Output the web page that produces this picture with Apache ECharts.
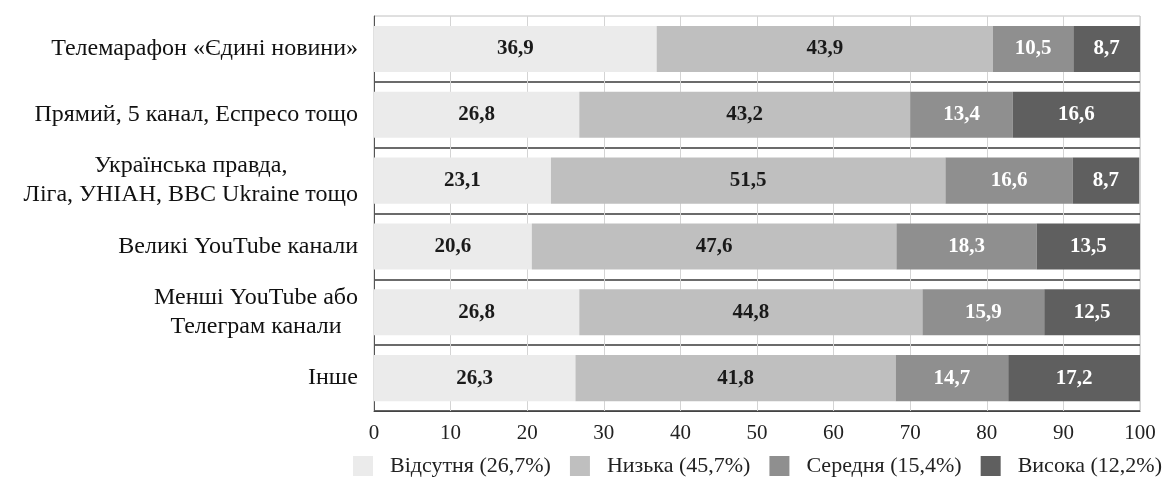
<!DOCTYPE html>
<html><head><meta charset="utf-8">
<script src="https://cdn.jsdelivr.net/npm/echarts@6/dist/echarts.min.js"></script>
<style>html,body{margin:0;padding:0;background:#fff}#c{width:1165px;height:491px}</style>
</head><body><div id="c"></div>
<script>
const categories = [
  'Телемарафон «Єдині новини»',
  'Прямий, 5 канал, Еспресо тощо',
  'Українська правда,\nЛіга, УНІАН, BBC Ukraine тощо',
  'Великі YouTube канали',
  'Менші YouTube або\nТелеграм канали',
  'Інше'
];
const seriesNames = ['Відсутня (26,7%)', 'Низька (45,7%)', 'Середня (15,4%)', 'Висока (12,2%)'];
const absent = [36.9, 26.8, 23.1, 20.6, 26.8, 26.3];
const low = [43.9, 43.2, 51.5, 47.6, 44.8, 41.8];
const medium = [10.5, 13.4, 16.6, 18.3, 15.9, 14.7];
const high = [8.7, 16.6, 8.7, 13.5, 12.5, 17.2];
const xTicks = [0, 10, 20, 30, 40, 50, 60, 70, 80, 90, 100];

const colors = ['#ebebeb', '#bfbfbf', '#8f8f8f', '#5f5f5f'];
const labelColors = ['#1a1a1a', '#1a1a1a', '#ffffff', '#ffffff'];
const font = '"Liberation Serif", "Times New Roman", serif';
const dataSets = [absent, low, medium, high];

const chart = echarts.init(document.getElementById('c'));
chart.setOption({
  animation: false,
  color: colors,
  grid: { left: 374, right: 25, top: 16, bottom: 80, show: true, borderColor: '#c0c0c0', borderWidth: 1, containLabel: false },
  legend: {
    top: 455, left: 353, width: 812, padding: 0,
    itemWidth: 20, itemHeight: 20, itemGap: 19,
    icon: 'rect',
    textStyle: { fontFamily: font, fontSize: 22, color: '#222', padding: [0, 0, 0, 12] },
    data: seriesNames
  },
  xAxis: {
    type: 'value', min: xTicks[0], max: xTicks[xTicks.length - 1], interval: 10,
    axisLine: { show: true, lineStyle: { color: '#444', width: 1 } },
    axisTick: { show: false },
    axisLabel: { fontFamily: font, fontSize: 21, color: '#222', margin: 12 },
    splitLine: { show: true, lineStyle: { color: '#d4d4d4', width: 1 } }
  },
  yAxis: {
    type: 'category', inverse: true, data: categories,
    axisLine: { show: true, lineStyle: { color: '#555', width: 1 } },
    axisTick: { show: false },
    axisLabel: {
      margin: 16, fontFamily: font, fontSize: 24, color: '#111', lineHeight: 29,
      formatter: v => '{c|' + v.split('\n').join('}\n{c|') + '}',
      rich: { c: { align: 'center', fontFamily: font, fontSize: 24, color: '#111', lineHeight: 29 } }
    },
    splitLine: { show: true, showMinLine: false, lineStyle: { color: '#3a3a3a', width: 1.5 } }
  },
  series: dataSets.map((d, i) => ({
    name: seriesNames[i], type: 'bar', stack: 'total', data: d,
    barWidth: '70%',
    itemStyle: { color: colors[i] },
    label: {
      show: true, position: 'inside', fontFamily: font, fontSize: 21, fontWeight: 'bold',
      color: labelColors[i],
      formatter: p => String(p.value.toFixed(1)).replace('.', ',')
    }
  }))
});
</script></body></html>
